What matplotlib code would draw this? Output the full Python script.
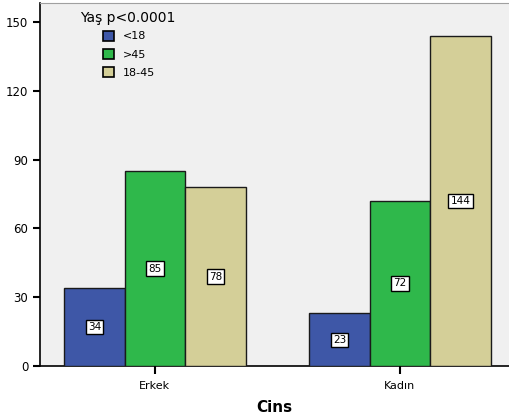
import matplotlib
matplotlib.use("Agg")
import matplotlib.pyplot as plt
import numpy as np

categories = ["Erkek", "Kadın"]
series_names = ["<18", ">45", "18-45"]
values_lt18 = [34, 23]
values_gt45 = [85, 72]
values_18_45 = [78, 144]
colors = ["#3e57a7", "#2fb84b", "#d4cf98"]
yticks = [0, 30, 60, 90, 120, 150]

fig = plt.figure(figsize=(5.09, 4.20), dpi=100)
fig.patch.set_facecolor("white")
ax = fig.add_axes([40/509, 54/420, 469/509, 363/420])
ax.set_facecolor("#f0f0f0")

x = np.arange(len(categories))
w = 0.247
series = [values_lt18, values_gt45, values_18_45]
for i, (vals, c, name) in enumerate(zip(series, colors, series_names)):
    pos = x + (i - 1) * w
    ax.bar(pos, vals, width=w, color=c, edgecolor="#1a1a1a", linewidth=1.0, label=name, zorder=3)
    for p, v in zip(pos, vals):
        ax.text(p, v / 2, str(v), ha="center", va="center", fontsize=7.5,
                bbox=dict(boxstyle="square,pad=0.2", facecolor="white", edgecolor="black", linewidth=1.0),
                zorder=4)

ax.set_xlim(-0.469, 1.445)
ax.set_ylim(0, 158.3)
ax.set_yticks(yticks)
ax.set_xticks(x)
ax.set_xticklabels(categories, fontsize=8)
ax.tick_params(axis="y", labelsize=8.5, length=5, width=1.5, direction="out")
ax.tick_params(axis="x", length=6, width=1.5, direction="out", pad=5)
for s in ["left", "bottom"]:
    ax.spines[s].set_color("black")
    ax.spines[s].set_linewidth(1.2)
ax.spines["top"].set_color("#a0a0a0")
ax.spines["right"].set_visible(False)
ax.set_xlabel("Cins", fontsize=11, fontweight="bold", labelpad=6)

ax.text(0.085, 0.959, "Yaş p<0.0001", transform=ax.transAxes, fontsize=10,
        ha="left", va="center", zorder=5)
leg = ax.legend(loc="upper left", bbox_to_anchor=(0.134, 0.924),
                frameon=False, fontsize=8, handlelength=1.0, handleheight=1.0,
                handletextpad=0.8, labelspacing=0.68, borderpad=0, borderaxespad=0)
for h in leg.legend_handles:
    h.set_edgecolor("black")
    h.set_linewidth(1.2)

fig.savefig("out.png", dpi=100)
